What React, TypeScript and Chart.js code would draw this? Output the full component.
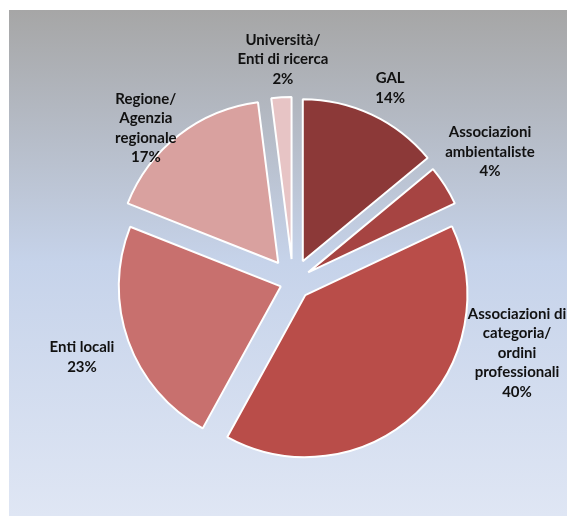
import React, { useEffect, useRef } from "react";
import { Chart, registerables } from "chart.js";

Chart.register(...registerables);

// ---- data ----
const categories: string[] = [
  "GAL",
  "Associazioni\nambientaliste",
  "Associazioni di\ncategoria/\nordini\nprofessionali",
  "Enti locali",
  "Regione/\nAgenzia\nregionale",
  "Università/\nEnti di ricerca",
];
const values: number[] = [14, 4, 40, 23, 17, 2];
const colors: string[] = ["#8C3938", "#A64442", "#B94D49", "#C8706E", "#D9A19F", "#E7C4C5"];

// ---- layout (not data) ----
const EXPLODE = [23, 18, 18, 13, 24, 23]; // px radial explosion per slice
const RADIUS = 162;
const LABEL_SHIFT_DEG = [1.4, -1.0, -29.2, 0.2, -5.9, 1.0];
const LABEL_DIST = [217, 236, 235, 224, 213, 223];
const LINE_H = 19.5;
const FONT = "bold 15px Lato, Carlito, Calibri, sans-serif";

const bgPlugin = {
  id: "bgPlugin",
  beforeDraw(chart: any) {
    const { ctx, width, height } = chart;
    const x0 = 9, y0 = 10;
    const g = ctx.createLinearGradient(0, y0, 0, height);
    g.addColorStop(0, "#A6A6A6");
    g.addColorStop(0.5, "#C6D3EA");
    g.addColorStop(1, "#DFE6F4");
    ctx.save();
    ctx.fillStyle = g;
    ctx.fillRect(x0, y0, width - x0, height - y0);
    ctx.restore();
  },
};

const explodePlugin = {
  id: "explodePlugin",
  beforeDatasetDraw(chart: any, args: any) {
    const { ctx } = chart;
    const meta = args.meta;
    meta.data.forEach((arc: any, i: number) => {
      const mid = (arc.startAngle + arc.endAngle) / 2;
      ctx.save();
      ctx.translate(Math.cos(mid) * EXPLODE[i], Math.sin(mid) * EXPLODE[i]);
      arc.draw(ctx);
      ctx.restore();
    });
    return false;
  },
};

const labelPlugin = {
  id: "labelPlugin",
  afterDatasetsDraw(chart: any) {
    const { ctx } = chart;
    const meta = chart.getDatasetMeta(0);
    const total = values.reduce((a, b) => a + b, 0);
    ctx.save();
    ctx.font = FONT;
    ctx.fillStyle = "#111111";
    ctx.textAlign = "center";
    ctx.textBaseline = "middle";
    meta.data.forEach((arc: any, i: number) => {
      const mid = (arc.startAngle + arc.endAngle) / 2 + (LABEL_SHIFT_DEG[i] * Math.PI) / 180;
      const cx = arc.x + Math.cos(mid) * LABEL_DIST[i];
      const cy = arc.y + Math.sin(mid) * LABEL_DIST[i];
      const lines = categories[i].split("\n");
      lines.push(Math.round((values[i] / total) * 100) + "%");
      const top = cy - ((lines.length - 1) * LINE_H) / 2;
      lines.forEach((ln, k) => ctx.fillText(ln, cx, top + k * LINE_H));
    });
    ctx.restore();
  },
};

export default function App() {
  const ref = useRef<HTMLCanvasElement | null>(null);
  useEffect(() => {
    if (!ref.current) return;
    const chart = new Chart(ref.current, {
      type: "pie",
      data: {
        labels: categories.map((c) => c.replace(/\n/g, " ")),
        datasets: [
          {
            data: values,
            backgroundColor: colors,
            borderColor: "#FFFFFF",
            borderWidth: 2,
          },
        ],
      },
      options: {
        animation: false,
        responsive: false,
        devicePixelRatio: 1,
        radius: RADIUS,
        layout: { padding: { left: 19, top: 48, right: 0, bottom: 0 } },
        plugins: {
          legend: { display: false },
          tooltip: { enabled: false },
        },
        events: [],
      } as any,
      plugins: [bgPlugin, explodePlugin, labelPlugin],
    });
    return () => chart.destroy();
  }, []);
  return (
    <div style={{ position: "absolute", left: 0, top: 0, width: 567, height: 516 }}>
      <canvas ref={ref} width={567} height={516} />
    </div>
  );
}
